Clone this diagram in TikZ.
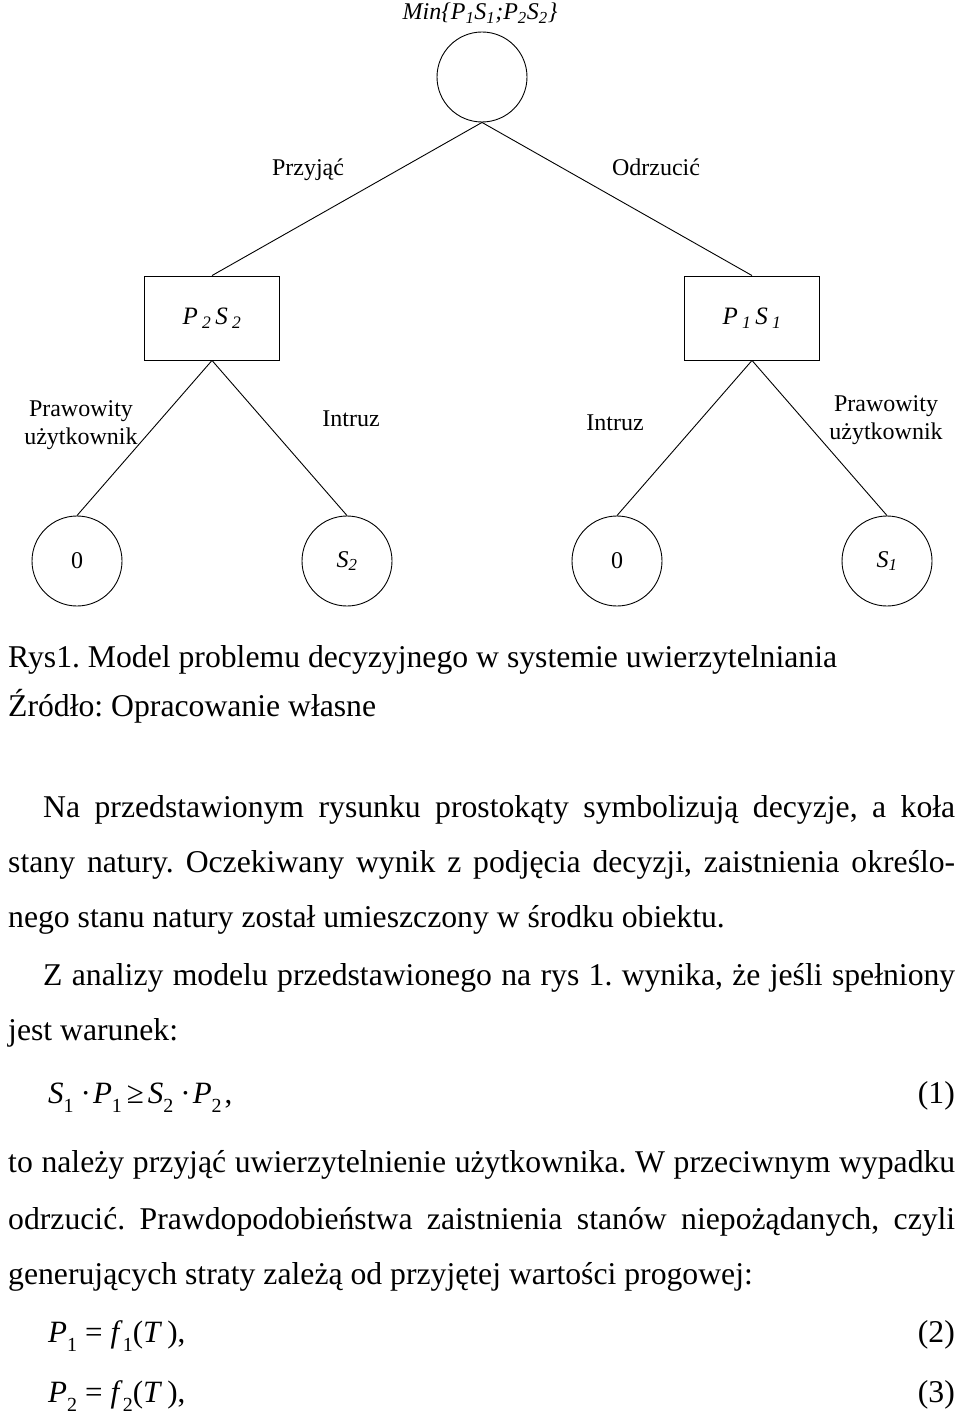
\documentclass[tikz,border=0pt]{standalone}
\usepackage{fontspec}
\setmainfont{Liberation Serif}
\usetikzlibrary{positioning}
\tikzset{
	chance/.style={draw,circle,minimum size=90pt,inner sep=0pt,line width=.9pt,font=\fontsize{24}{28}\selectfont},
	decision/.style={draw,rectangle,minimum width=135pt,minimum height=84pt,line width=.9pt,font=\fontsize{25}{28}\selectfont\itshape},
	lbl/.style={font=\fontsize{24}{28}\selectfont,align=center,inner sep=0pt},
	body/.style={font=\fontsize{31.7}{38}\selectfont,anchor=base west,inner sep=0pt},
	eq/.style={font=\fontsize{31}{34}\selectfont,anchor=base west,inner sep=0pt},
	eqnum/.style={font=\fontsize{31.7}{38}\selectfont,anchor=base east,inner sep=0pt},
	branch/.style={line width=.9pt},
}
\newcommand{\ind}[1]{\raisebox{-.3em}{\fontsize{20}{20}\selectfont #1}}
\frenchspacing
\begin{document}
\begin{tikzpicture}[x=1pt,y=-1pt]
	\useasboundingbox (0,0) rectangle (960,1420);
	% drzewo decyzyjne
	\node[lbl,font=\fontsize{24}{28}\selectfont\itshape] (min) at (480,13) {Min\{P\textsubscript{1}S\textsubscript{1};P\textsubscript{2}S\textsubscript{2}\}};
	\node[chance] (root) at (482,77) {};
	\node[decision] (acc) at (212,318) {P\,\textsubscript{2}\,S\,\textsubscript{2}};
	\node[decision] (rej) at (752,318) {P\,\textsubscript{1}\,S\,\textsubscript{1}};
	\node[chance] (c1) at (77,561) {0};
	\node[chance] (c2) at (347,561) {\itshape S\textsubscript{2}};
	\node[chance] (c3) at (617,561) {0};
	\node[chance] (c4) at (887,561) {\itshape S\textsubscript{1}};
	\draw[branch] (root.south) -- (acc.north) (root.south) -- (rej.north);
	\draw[branch] (acc.south) -- (c1.north) (acc.south) -- (c2.north);
	\draw[branch] (rej.south) -- (c3.north) (rej.south) -- (c4.north);
	\node[lbl] (przyjac) at (308,170) {Przyjąć};
	\node[lbl] (odrzucic) at (656,167) {Odrzucić};
	\node[lbl] (praw1) at (81,425) {Prawowity\\użytkownik};
	\node[lbl] (intr1) at (351,419) {Intruz};
	\node[lbl] (intr2) at (615,423) {Intruz};
	\node[lbl] (praw2) at (886,420) {Prawowity\\użytkownik};
	% tekst pod rysunkiem
	\node[body] (t1) at (8,667) {Rys1. Model problemu decyzyjnego w systemie uwierzytelniania};
	\node[body] (t2) at (8,716) {Źródło: Opracowanie własne};
	\node[body] (t3) at (43,817) {\makebox[912pt][s]{Na przedstawionym rysunku prostokąty symbolizują decyzje, a koła}};
	\node[body] (t4) at (8,872) {\makebox[947pt][s]{stany natury. Oczekiwany wynik z podjęcia decyzji, zaistnienia określo-}};
	\node[body] (t5) at (8,927) {nego stanu natury został umieszczony w środku obiektu.};
	\node[body] (t6) at (43,985) {\makebox[912pt][s]{Z analizy modelu przedstawionego na rys 1. wynika, że jeśli spełniony}};
	\node[body] (t7) at (8,1040) {jest warunek:};
	\node[eq] (w1) at (48,1103) {\textit{S}\ind{1}\hspace{7pt}·\hspace{2pt}\textit{P}\ind{1}\hspace{5pt}≥\hspace{4pt}\textit{S}\ind{2}\hspace{7pt}·\hspace{2pt}\textit{P}\ind{2}\hspace{3pt},};
	\node[eqnum] (n1) at (955,1103) {(1)};
	\node[body] (t8) at (8,1172) {\makebox[947pt][s]{to należy przyjąć uwierzytelnienie użytkownika. W przeciwnym wypadku}};
	\node[body] (t9) at (8,1229) {\makebox[947pt][s]{odrzucić. Prawdopodobieństwa zaistnienia stanów niepożądanych, czyli}};
	\node[body] (t10) at (8,1284) {generujących straty zależą od przyjętej wartości progowej:};
	\node[eq] (w2) at (48,1342) {\textit{P}\ind{1}\hspace{8pt}=\hspace{8pt}\textit{f}\ind{1}(\textit{T}\,),};
	\node[eqnum] (n2) at (955,1342) {(2)};
	\node[eq] (w3) at (48,1402) {\textit{P}\ind{2}\hspace{8pt}=\hspace{8pt}\textit{f}\ind{2}(\textit{T}\,),};
	\node[eqnum] (n3) at (955,1402) {(3)};
\end{tikzpicture}
\end{document}
